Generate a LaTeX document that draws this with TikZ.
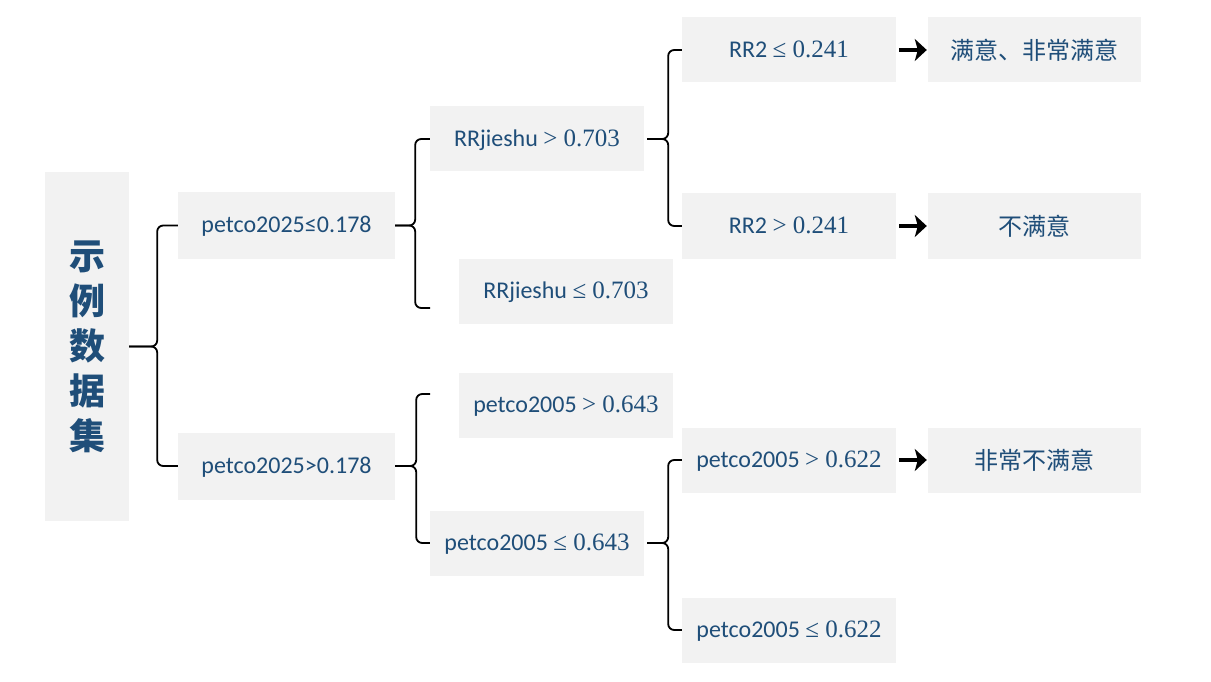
\documentclass[tikz,border=0pt]{standalone}
\usepackage{fontspec}
\setmainfont{Carlito}
\newfontfamily\cjk{Noto Sans CJK SC}
\newfontfamily\ser{Liberation Serif}
\newcommand{\sr}[1]{{\ser\fontsize{25}{28}\selectfont #1}}
\usetikzlibrary{arrows.meta,calc}
\definecolor{txtblue}{HTML}{1F4E79}
\definecolor{boxgray}{HTML}{F2F2F2}
\begin{document}
\begin{tikzpicture}[x=1pt,y=-1pt,
  base/.style={fill=boxgray, text=txtblue, minimum width=214pt, minimum height=65pt, inner sep=0pt},
  box/.style={base, font=\fontsize{24}{28}\selectfont, text height=19pt, text depth=4pt},
  cnbox/.style={base, font=\cjk\fontsize{24}{28}\selectfont},
  brace/.style={draw=black, line width=1.8pt, rounded corners=6pt},
  arr/.style={draw=black, line width=4.5pt, -{Stealth[length=12pt,width=22pt,inset=3pt]}, shorten <=3pt, shorten >=1pt}]
\useasboundingbox (0,0) rectangle (1211,682);
% root
\node[fill=boxgray, minimum width=84pt, minimum height=349pt, inner sep=0pt, text=txtblue,
  font=\cjk\bfseries\fontsize{36}{45}\selectfont, align=center] (root) at (87,346.5) {示\\例\\数\\据\\集};
% level A
\node[box, minimum width=217pt, minimum height=67pt] (A1) at (286.5,225.5) {petco2025≤0.178};
\node[box, minimum width=217pt, minimum height=67pt] (A2) at (286.5,466) {petco2025>0.178};
% level B
\node[box] (B1) at (537,139) {RRjieshu \sr{> 0.703}};
\node[box] (B2) at (566,291) {RRjieshu \sr{≤ 0.703}};
\node[box] (B3) at (566,405) {petco2005 \sr{> 0.643}};
\node[box] (B4) at (537,543) {petco2005 \sr{≤ 0.643}};
% level C
\node[box] (C1) at (789,50) {RR2 \sr{≤ 0.241}};
\node[box] (C2) at (789,226) {RR2 \sr{> 0.241}};
\node[box] (C3) at (789,460) {petco2005 \sr{> 0.622}};
\node[box] (C4) at (789,630) {petco2005 \sr{≤ 0.622}};
% results
\node[cnbox, minimum width=213pt] (D1) at (1034.5,50) {满意、非常满意};
\node[cnbox, minimum width=213pt] (D2) at (1034.5,226) {不满意};
\node[cnbox, minimum width=213pt] (D3) at (1034.5,460) {非常不满意};
% free ends
\coordinate (b2in) at (430,308);
\coordinate (b3in) at (430,394);
% braces
\draw[brace] (A1.west) -| ([xshift=28pt]root.east) -- (root.east);
\draw[brace] (A2.west) -| ([xshift=28pt]root.east) -- (root.east);
\draw[brace] (B1.west) -| ([xshift=20pt]A1.east) -- (A1.east);
\draw[brace] (b2in) -| ([xshift=20pt]A1.east) -- (A1.east);
\draw[brace] (b3in) -| ([xshift=21pt]A2.east) -- (A2.east);
\draw[brace] (B4.west) -| ([xshift=21pt]A2.east) -- (A2.east);
\draw[brace] (C1.west) -| ([xshift=24pt]B1.east) -- ([xshift=3pt]B1.east);
\draw[brace] (C2.west) -| ([xshift=24pt]B1.east) -- ([xshift=3pt]B1.east);
\draw[brace] (C3.west) -| ([xshift=24pt]B4.east) -- ([xshift=3pt]B4.east);
\draw[brace] (C4.west) -| ([xshift=24pt]B4.east) -- ([xshift=3pt]B4.east);
% arrows
\draw[arr] (C1.east) -- (D1.west);
\draw[arr] (C2.east) -- (D2.west);
\draw[arr] (C3.east) -- (D3.west);
\end{tikzpicture}
\end{document}
